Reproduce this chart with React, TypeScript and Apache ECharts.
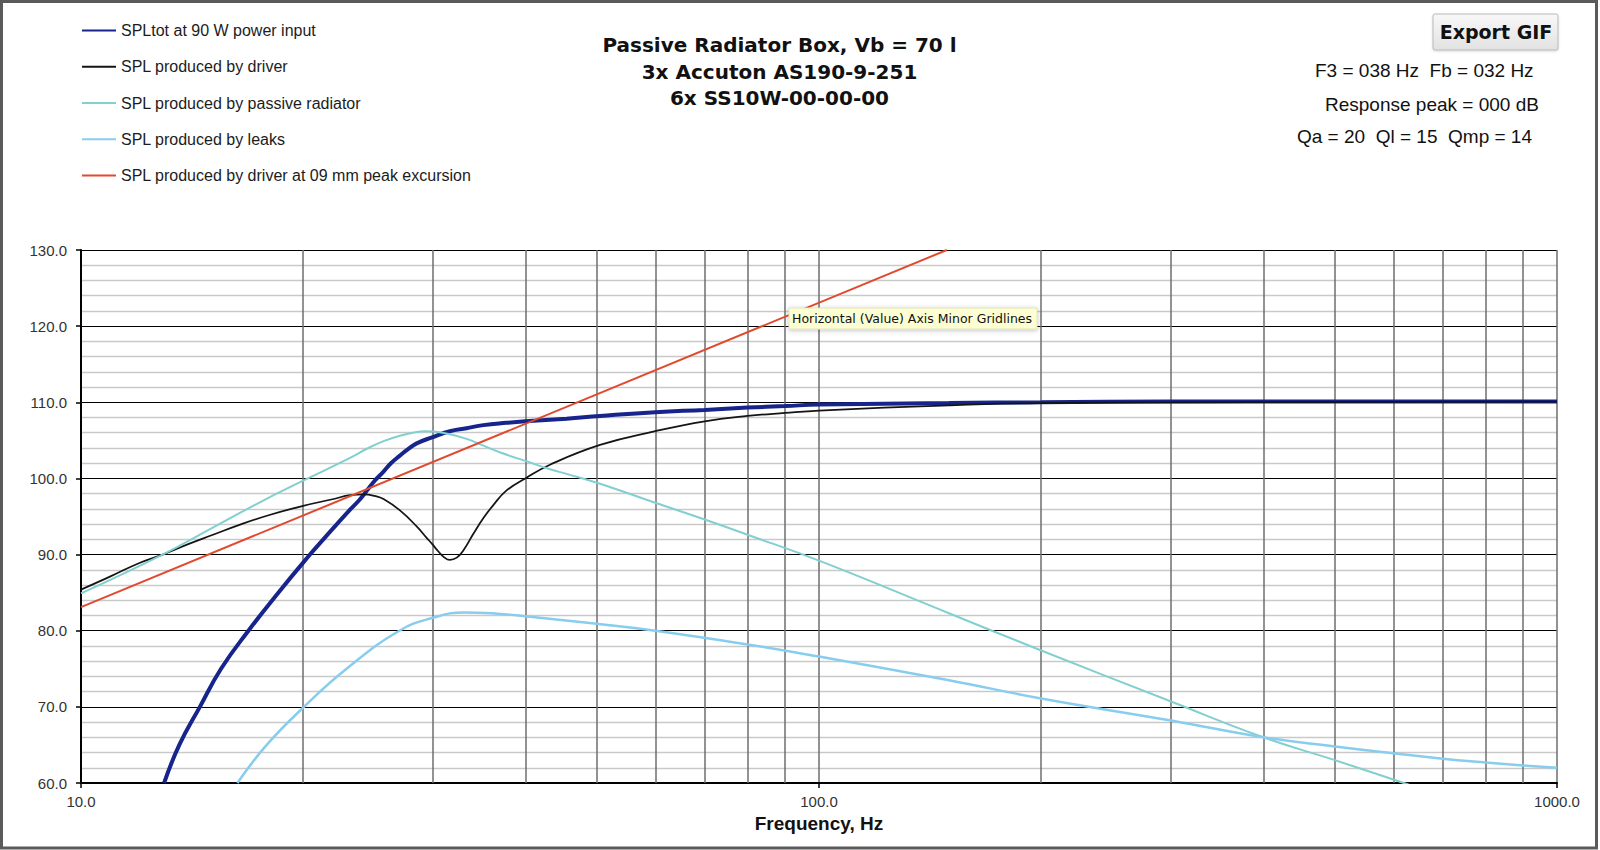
import React, { useEffect, useRef } from "react";
import * as echarts from "echarts";

// ---------- data (frequency Hz, SPL dB) ----------
const seriesNames = [
  "SPLtot at 90 W power input",
  "SPL produced by driver",
  "SPL produced by passive radiator",
  "SPL produced by leaks",
  "SPL produced by driver at 09 mm peak excursion",
];

const splTotal: [number, number][] = [
  [12.96, 60], [13.59, 65], [14.49, 70], [15.48, 75], [16.86, 80], [18.51, 85],
  [20.43, 90], [21.3, 92], [23.15, 95.9], [23.8, 97.1], [24.4, 98.4], [25.0, 99.7],
  [25.7, 100.9], [26.3, 102.0], [27.05, 103.0], [27.8, 103.9], [28.5, 104.6],
  [29.9, 105.4], [31.6, 106.2], [33.3, 106.6], [35.1, 107.0], [37.7, 107.3],
  [40, 107.5], [45.5, 107.85], [50.5, 108.2], [60, 108.7], [70, 109.0], [80, 109.3],
  [90, 109.5], [100, 109.7], [150, 109.9], [200, 110.0], [300, 110.1], [1000, 110.1],
];

const splDriver: [number, number][] = [
  [10, 85.4], [11, 87.2], [12, 88.9], [12.9, 90.0], [14, 91.4], [15, 92.5],
  [16.5, 94.0], [18, 95.2], [20, 96.4], [22, 97.3], [23.15, 97.8], [24.2, 97.9],
  [25.0, 97.7], [25.7, 97.3], [27.05, 95.8], [28.5, 93.7], [29.4, 92.2], [29.9, 91.4],
  [30.5, 90.4], [31.0, 89.7], [31.6, 89.3], [32.3, 89.6], [33.0, 90.6], [34.0, 92.7],
  [35.1, 94.8], [36.2, 96.5], [37.7, 98.4], [40, 100.0], [43.2, 101.8], [50.5, 104.4],
  [60, 106.2], [70, 107.5], [80, 108.2], [90, 108.6], [100, 108.9], [150, 109.6],
  [200, 109.9], [300, 110.0], [1000, 110.1],
];

const splPassive: [number, number][] = [
  [10, 84.9], [12.9, 90.0], [15, 93.4], [17.5, 96.9], [20, 99.7], [23.15, 102.7],
  [24.4, 103.9], [25.7, 104.9], [27.05, 105.6], [28.5, 106.1], [29.2, 106.2],
  [30.0, 106.15], [31.6, 105.8], [33.3, 105.2], [35.1, 104.3], [37.0, 103.4],
  [40, 102.3], [43.2, 101.2], [45.5, 100.6], [50.5, 99.3], [60, 96.8], [70, 94.6],
  [80, 92.6], [100, 89.2], [150, 82.3], [200, 77.4], [300, 70.7], [400, 66.0],
  [500, 63.0], [620, 60.0], [700, 58.3],
];

const splLeaks: [number, number][] = [
  [16.29, 60], [17.85, 65], [20.05, 70], [22.9, 75], [27.0, 80], [30, 81.7],
  [33, 82.4], [36, 82.3], [40, 81.9], [50, 80.9], [60, 80.0], [80, 78.2],
  [100, 76.6], [150, 73.5], [200, 71.1], [300, 68.2], [400, 66.0], [500, 64.8],
  [600, 63.9], [700, 63.2], [800, 62.7], [900, 62.3], [1000, 62.0],
];

const splExcursion: [number, number][] = [
  [10, 83.1], [149, 130],
];

const minorFreqLines = [20, 30, 40, 50, 60, 70, 80, 90, 200, 300, 400, 500, 600, 700, 800, 900];

const titleLines = [
  "Passive Radiator Box, Vb = 70 l",
  "3x Accuton AS190-9-251",
  "6x SS10W-00-00-00",
];

const infoLines = [
  "F3 = 038 Hz  Fb = 032 Hz",
  "Response peak = 000 dB",
  "Qa = 20  Ql = 15  Qmp = 14",
];

const FONT = '"Liberation Sans", Arial, Helvetica, sans-serif';
const WIDE = '"DejaVu Sans", Verdana, sans-serif';

function buildOption(): any {
  const colors = ["#16248c", "#141414", "#82cfd0", "#88cdee", "#e04a2f"];
  const widths = [4, 1.75, 2, 2.5, 2];
  const datasets = [splTotal, splDriver, splPassive, splLeaks, splExcursion];

  const curveSeries = datasets.map((d, i) => ({
    name: seriesNames[i],
    type: "line",
    data: d,
    showSymbol: false,
    symbol: "none",
    smooth: i === 4 ? false : 0.45,
    clip: true,
    z: 3 + i,
    lineStyle: { color: colors[i], width: widths[i] },
    itemStyle: { color: colors[i] },
  }));

  const gridSeries = {
    name: "_grid",
    type: "line",
    data: [[10, 60]],
    showSymbol: false,
    symbol: "none",
    silent: true,
    z: 1,
    lineStyle: { width: 0 },
    markLine: {
      silent: true,
      z: 1,
      symbol: ["none", "none"],
      label: { show: false },
      emphasis: { disabled: true },
      lineStyle: { color: "#6e6e6e", width: 1.5, type: "solid" },
      data: minorFreqLines.map((f) => ({ xAxis: f })),
    },
  };

  const titleGraphics = titleLines.map((t, i) => ({
    type: "text",
    x: 779.5,
    y: 45 + i * 26.7,
    z: 50,
    silent: true,
    style: {
      text: t,
      fontFamily: WIDE,
      fontSize: 20,
      fontWeight: "bold",
      fill: "#111",
      align: "center",
      verticalAlign: "middle",
      textAlign: "center",
      textVerticalAlign: "middle",
    },
  }));

  const infoX = [1315, 1325, 1297];
  const infoY = [70.5, 104, 136.3];
  const infoGraphics = infoLines.map((t, i) => ({
    type: "text",
    x: infoX[i],
    y: infoY[i],
    z: 50,
    silent: true,
    style: {
      text: t,
      fontFamily: FONT,
      fontSize: 19,
      fill: "#111",
      align: "left",
      verticalAlign: "middle",
      textAlign: "left",
      textVerticalAlign: "middle",
    },
  }));

  return {
    animation: false,
    backgroundColor: "#ffffff",
    textStyle: { fontFamily: FONT },
    grid: { left: 81, right: 43, top: 250, bottom: 67, containLabel: false },
    legend: {
      orient: "vertical",
      left: 81,
      top: 22.6,
      padding: 0,
      itemWidth: 34,
      itemHeight: 14,
      itemGap: 20.2,
      selectedMode: false,
      data: seriesNames,
      itemStyle: { opacity: 0, borderWidth: 0 },
      textStyle: { fontFamily: FONT, fontSize: 16, color: "#1c1c1c" },
    },
    xAxis: {
      type: "log",
      logBase: 10,
      min: 10,
      max: 1000,
      name: "Frequency, Hz",
      nameLocation: "middle",
      nameGap: 28,
      nameTextStyle: { fontFamily: FONT, fontSize: 19, fontWeight: "bold", color: "#111" },
      axisLine: { show: true, onZero: false, lineStyle: { color: "#000", width: 2 } },
      axisTick: { show: true, length: 5, inside: false, lineStyle: { color: "#000", width: 1.5 } },
      axisLabel: {
        margin: 11,
        fontSize: 15,
        color: "#333",
        fontFamily: FONT,
        formatter: (v: number) => Number(v).toFixed(1),
      },
      splitLine: { show: true, lineStyle: { color: "#6e6e6e", width: 1.5 } },
      minorTick: { show: false },
      minorSplitLine: { show: false },
    },
    yAxis: {
      type: "value",
      min: 60,
      max: 130,
      interval: 10,
      axisLine: { show: true, onZero: false, lineStyle: { color: "#000", width: 2 } },
      axisTick: { show: true, length: 5, inside: false, lineStyle: { color: "#000", width: 1.5 } },
      axisLabel: {
        margin: 14,
        fontSize: 15,
        color: "#333",
        fontFamily: FONT,
        formatter: (v: number) => Number(v).toFixed(1),
      },
      splitLine: { show: true, lineStyle: { color: "#000", width: 1 } },
      minorTick: { show: false, splitNumber: 5 },
      minorSplitLine: { show: true, lineStyle: { color: "#c9c9c9", width: 1.3 } },
    },
    series: [gridSeries, ...curveSeries],
    graphic: [
      ...titleGraphics,
      ...infoGraphics,
      {
        type: "rect",
        z: 50,
        silent: true,
        shape: { x: 1433, y: 14, width: 125, height: 36, r: 2 },
        style: {
          fill: new echarts.graphic.LinearGradient(0, 0, 0, 1, [
            { offset: 0, color: "#f8f8f8" },
            { offset: 1, color: "#e2e2e2" },
          ]),
          stroke: "#b9b9b9",
          lineWidth: 1,
          shadowColor: "rgba(0,0,0,0.15)",
          shadowBlur: 2,
          shadowOffsetY: 1,
        },
      },
      {
        type: "text",
        x: 1496,
        y: 32,
        z: 51,
        silent: true,
        style: {
          text: "Export GIF",
          fontFamily: WIDE,
          fontSize: 19,
          fontWeight: "bold",
          fill: "#111",
          align: "center",
          verticalAlign: "middle",
          textAlign: "center",
          textVerticalAlign: "middle",
        },
      },
      {
        type: "rect",
        z: 60,
        silent: true,
        shape: { x: 789, y: 308, width: 248, height: 21 },
        style: {
          fill: "#fefed3",
          stroke: "#e4e4bd",
          lineWidth: 1,
          shadowColor: "rgba(0,0,0,0.25)",
          shadowBlur: 4,
          shadowOffsetY: 1,
        },
      },
      {
        type: "text",
        x: 792,
        y: 318.5,
        z: 61,
        silent: true,
        style: {
          text: "Horizontal (Value) Axis Minor Gridlines",
          fontFamily: WIDE,
          fontSize: 12.5,
          fill: "#111",
          align: "left",
          verticalAlign: "middle",
          textAlign: "left",
          textVerticalAlign: "middle",
        },
      },
      {
        type: "rect",
        z: 100,
        silent: true,
        shape: { x: 1.5, y: 1.5, width: 1595, height: 846.5 },
        style: { fill: "none", stroke: "#5a5a5a", lineWidth: 3 },
      },
    ],
  };
}

export default function App() {
  const ref = useRef<HTMLDivElement>(null);
  useEffect(() => {
    if (!ref.current) return;
    const chart = echarts.init(ref.current, null, { renderer: "svg" });
    chart.setOption(buildOption());
    return () => {
      chart.dispose();
    };
  }, []);
  return (
    <div
      ref={ref}
      style={{ position: "fixed", left: 0, top: 0, width: 1600, height: 850, background: "#fff" }}
    />
  );
}
